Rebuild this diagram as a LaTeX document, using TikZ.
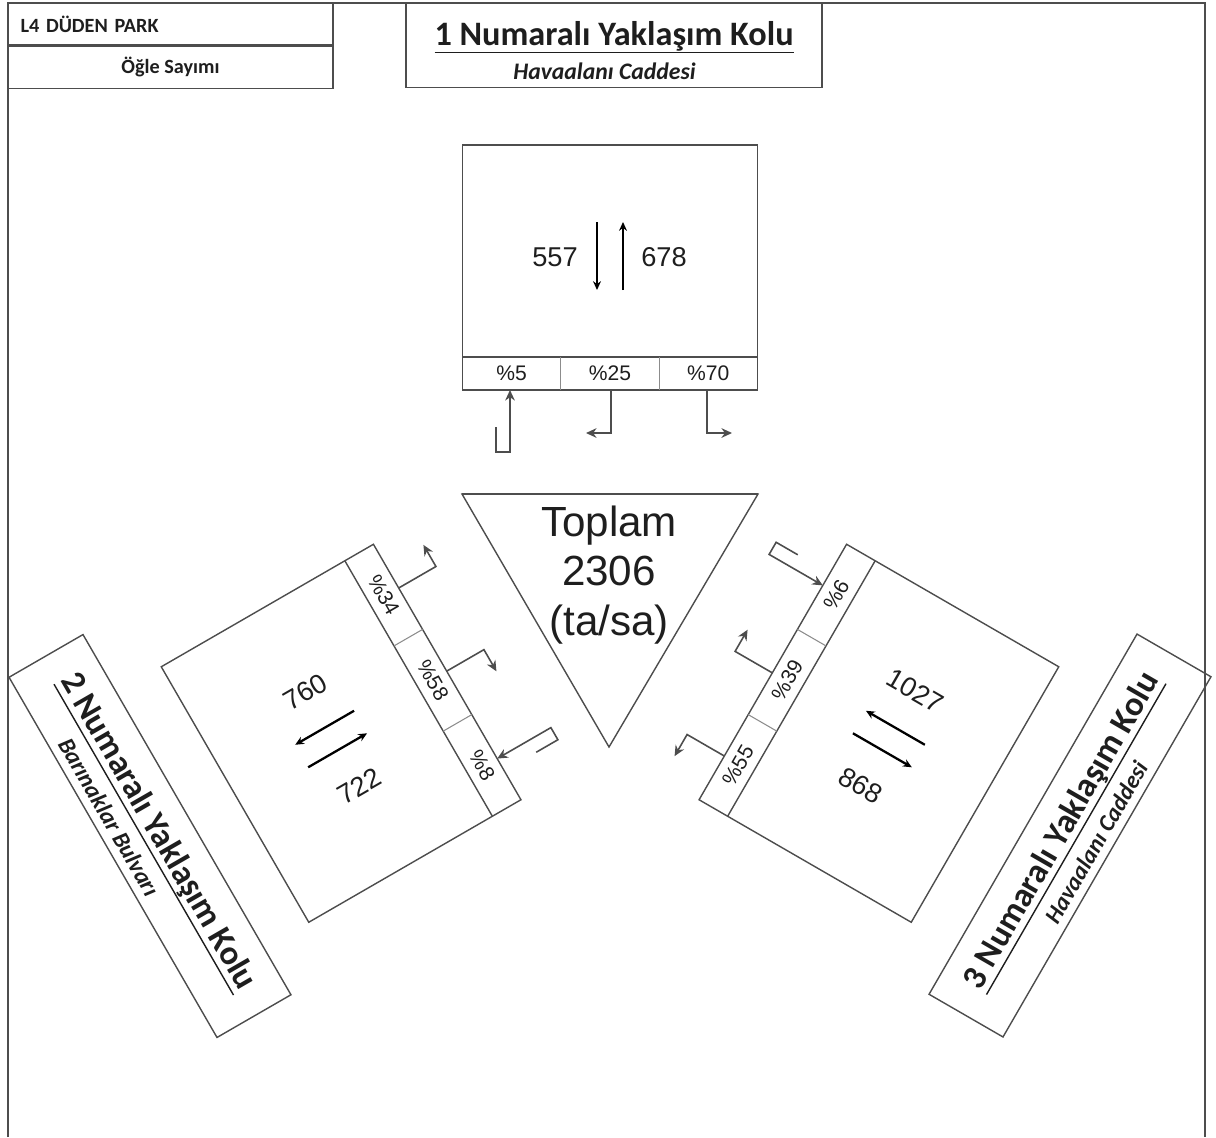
\documentclass[tikz,border=0pt]{standalone}
\usepackage{fontspec}
\setmainfont{Liberation Sans}
\newfontfamily\calibri{Carlito}
\usepackage{tikz}
\usetikzlibrary{
arrows.meta,
positioning,
calc
}
\definecolor{plangray}{HTML}{4D4D4D}
\definecolor{planlight}{HTML}{8C8C8C}
\definecolor{plantext}{HTML}{1E1E1E}

%% title of an approach arm: name, rule, street (#3 = street shift)
\newcommand{\kolulabel}[3]{%
  \setlength{\arrayrulewidth}{0.8pt}%
  \begin{tabular}{@{}c@{}}
    \rule[-3.4pt]{0pt}{27.8pt}{\fontsize{19.5}{22}\selectfont\bfseries #1}\\\hline
    \rule[-4.8pt]{0pt}{19.8pt}\hspace*{-#3}%
    {\fontsize{13.5}{15}\selectfont\bfseries\itshape #2}\hspace*{#3}
  \end{tabular}}

\begin{document}
\begin{tikzpicture}[
  x=0.02cm, y=-0.02cm,
  >={Stealth[length=5pt,width=4.5pt]},
  every node/.style={font=\normalsize, text=plantext},
  boxline/.style={draw=plangray, line width=0.8pt},
  cellline/.style={draw=planlight, line width=0.6pt},
  hdrbox/.style={boxline, minimum width=6.5cm, minimum height=0.84cm,
    inner sep=0pt, font=\calibri\bfseries\fontsize{11.5}{13}\selectfont},
  titlebox/.style={boxline, minimum width=8.32cm, minimum height=1.68cm,
    inner sep=0pt, font=\calibri},
  flowarrow/.style={->, black, line width=1.3pt},
  turnarrow/.style={-{Stealth[length=6pt,width=5.5pt]}, plangray, line width=0.9pt},
  cellfont/.style={font=\fontsize{12}{14}\selectfont},
  bignum/.style={font=\fontsize{15.5}{18}\selectfont}
]
\useasboundingbox (0,0) rectangle (1216,1137);

%% ── FRAME ───────────────────────────────────────────────────────
\draw[boxline] (8,1137) -- (8,3) -- (1205,3) -- (1205,1137);

%% ── HEADER ──────────────────────────────────────────────────────
\node[hdrbox, text width=6.0cm, align=left] (site) at (170.5,24) {L4 DÜDEN PARK};
\node[hdrbox, below=0pt of site] (count) {Öğle Sayımı};

%% ── ARM TITLES ──────────────────────────────────────────────────
\node[titlebox] (kolu1) at (614,45)
  {\kolulabel{1 Numaralı Yaklaşım Kolu}{Havaalanı Caddesi}{5.4pt}};
\node[titlebox, rotate=-60] (kolu2) at (150,836)
  {\kolulabel{2 Numaralı Yaklaşım Kolu}{Barınaklar Bulvarı}{21pt}};
\node[titlebox, rotate=60] (kolu3) at (1070,835.5)
  {\kolulabel{3 Numaralı Yaklaşım Kolu}{Havaalanı Caddesi}{-4pt}};

%% ── TOTAL ───────────────────────────────────────────────────────
\coordinate (tl) at (462,494);
\coordinate (tr) at (758,494);
\coordinate (apex) at (609,747);
\draw[boxline] (tl) -- (tr) -- (apex) -- cycle;
\draw[plangray, line width=1.2pt] (tl) -- (tr);
\node[font=\fontsize{24}{28.3}\selectfont, align=center] (total) at (609,575)
  {Toplam\\2306\\(ta/sa)};

%% ── APPROACH ARMS (rotated about the centre) ────────────────────
%% index / angle / in / out / cells / number rot / cell rot
\foreach \i/\ang/\tow/\awy/\pa/\pb/\pc/\tr/\pr in
  {1/0/557/678/5/25/70/0/0,
   2/120/722/760/8/58/34/30/-60,
   3/-120/1027/868/6/39/55/-30/60}{
  \begin{scope}[shift={(610,578)}, rotate=\ang]
    % box and turning strip
    \draw[boxline] (-147.5,-433) rectangle (147.5,-188);
    \draw[boxline] (-147.5,-221) -- (147.5,-221);
    \draw[cellline] (-49.2,-221) -- (-49.2,-188);
    \draw[cellline] (49.2,-221) -- (49.2,-188);
    % volumes
    \draw[flowarrow] (-13,-356) -- (-13,-288);
    \draw[flowarrow] (13,-288) -- (13,-356);
    \node[bignum, rotate=\tr] (tow\i) at (-55,-321) {\tow};
    \node[bignum, rotate=\tr] (awy\i) at (54,-321) {\awy};
    % turning shares
    \node[cellfont, rotate=\pr] (cell\i a) at (-98.3,-204.5) {\%\pa};
    \node[cellfont, rotate=\pr] (cell\i b) at (0,-204.5) {\%\pb};
    \node[cellfont, rotate=\pr] (cell\i c) at (98.3,-204.5) {\%\pc};
    \draw[turnarrow] (-114,-151) -- (-114,-126) -- (-100,-126) -- (-100,-188);
    \draw[turnarrow] (1,-188) -- (1,-145) -- (-24,-145);
    \draw[turnarrow] (97,-188) -- (97,-145) -- (122,-145);
  \end{scope}
}

\end{tikzpicture}
\end{document}
